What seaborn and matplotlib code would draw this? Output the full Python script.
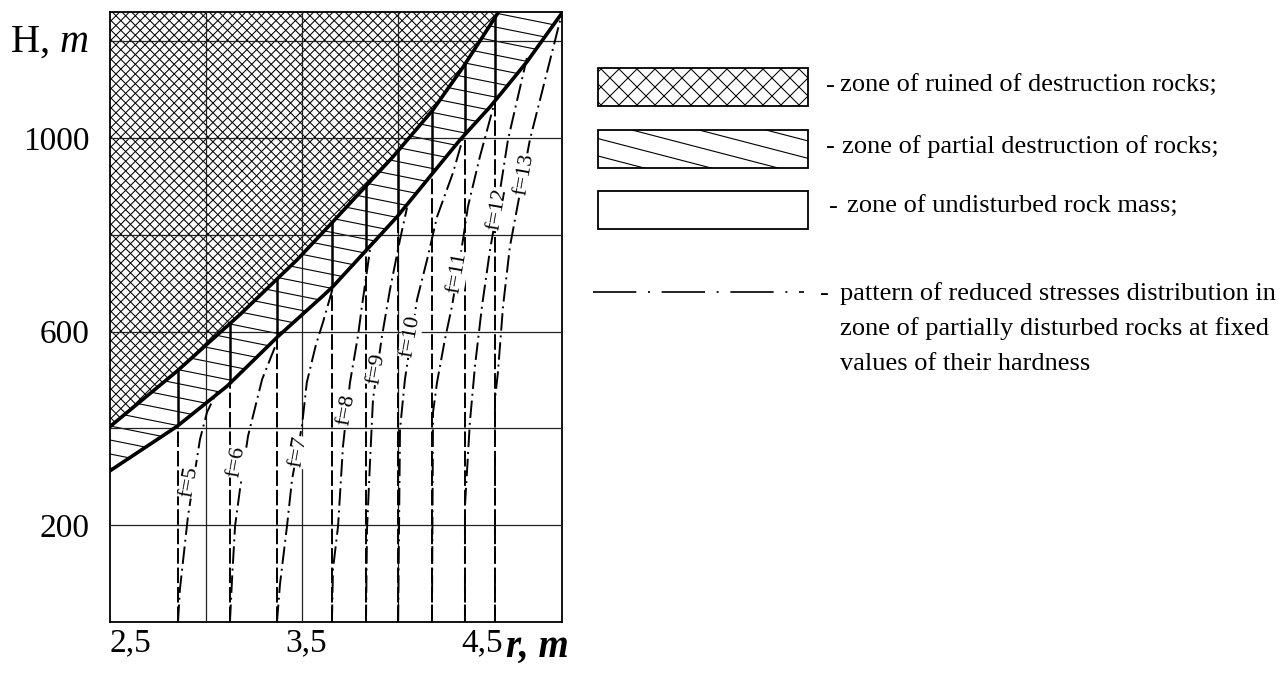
import numpy as np
import pandas as pd
import matplotlib
matplotlib.use('Agg')
import matplotlib.pyplot as plt
from matplotlib.patches import Polygon, Rectangle
from matplotlib.collections import LineCollection
from matplotlib.transforms import Affine2D
import seaborn as sns

# boundary of the ruined zone (r, m ; H, m)
upper_r = [2.376, 2.763, 3.122, 3.447, 3.652, 3.994, 4.222, 4.393, 4.592]
upper_H = [402, 518, 635, 748, 827, 961, 1058, 1146, 1258]

# boundary of the partial destruction zone
lower_r = [2.376, 2.763, 3.048, 3.339, 3.590, 3.652, 4.017, 4.376, 4.547, 4.757, 4.957]
lower_H = [311, 404, 487, 590, 672, 693, 837, 996, 1064, 1157, 1258]

# reduced stress curves for fixed hardness f
f_values = [5, 6, 7, 8, 9, 10, 11, 12, 13]
f_r = [
    [2.769, 2.780, 2.826, 2.894, 2.934, 2.991],
    [3.065, 3.077, 3.094, 3.122, 3.168, 3.248, 3.339, 3.356],
    [3.333, 3.350, 3.390, 3.419, 3.475, 3.503, 3.555, 3.595, 3.652],
    [3.646, 3.652, 3.681, 3.709, 3.749, 3.794, 3.817, 3.863, 3.874],
    [3.840, 3.846, 3.863, 3.880, 3.931, 3.977, 4.034, 4.074],
    [4.023, 4.034, 4.062, 4.131, 4.188, 4.245, 4.336, 4.393],
    [4.216, 4.222, 4.245, 4.290, 4.330, 4.393, 4.421, 4.489, 4.575],
    [4.404, 4.404, 4.432, 4.461, 4.501, 4.547, 4.587, 4.649, 4.757],
    [4.575, 4.575, 4.592, 4.621, 4.660, 4.774, 4.957],
]
f_H = [
    [0, 68, 219, 377, 433, 476],
    [0, 89, 198, 274, 384, 501, 584, 600],
    [0, 78, 198, 295, 404, 495, 573, 619, 691],
    [0, 109, 198, 363, 495, 590, 652, 769, 779],
    [0, 192, 330, 460, 590, 687, 790, 856],
    [0, 398, 501, 666, 748, 837, 928, 1000],
    [0, 433, 495, 584, 652, 790, 858, 961, 1076],
    [0, 239, 412, 528, 652, 769, 852, 996, 1165],
    [0, 460, 516, 652, 775, 996, 1258],
]
label_r = [2.835, 3.100, 3.453, 3.732, 3.902, 4.096, 4.359, 4.587, 4.741]
label_H = [289, 330, 351, 439, 522, 590, 722, 852, 924]

grid_r = [2.930, 3.477, 4.023]
x_ticks = [2.5, 3.5, 4.5]
x_ticklabels = ['2,5', '3,5', '4,5']
y_ticks = [200, 600, 1000]
y_minor = [400, 800, 1200]

legend_texts = ['zone of ruined of destruction rocks;',
                'zone of partial destruction of rocks;',
                'zone of undisturbed rock mass;']
pattern_lines = ['pattern of reduced stresses distribution in',
                 'zone of partially disturbed rocks at fixed',
                 'values of their hardness']

sns.set_theme(style='white')
plt.rcParams['font.family'] = ['Liberation Serif', 'DejaVu Serif']
plt.rcParams['text.color'] = 'black'
plt.rcParams['mathtext.fontset'] = 'custom'
plt.rcParams['mathtext.rm'] = 'Liberation Serif'
plt.rcParams['mathtext.it'] = 'Liberation Serif:italic'

W, Hpx = 1285, 673
AXW, AXH = 452, 610
fig = plt.figure(figsize=(W / 100, Hpx / 100), dpi=100)
ax = fig.add_axes([110 / W, 51 / Hpx, AXW / W, AXH / Hpx])
xmin, xmax = 2.3815, 4.957
ymin, ymax = 0, 1260
ax.set_xlim(xmin, xmax)
ax.set_ylim(ymin, ymax)

# zones
top_pts = [(upper_r[-1], ymax + 20), (xmin - 0.1, ymax + 20), (xmin - 0.1, upper_H[0])]
ruined = Polygon(list(zip(upper_r, upper_H)) + top_pts, closed=True,
                 facecolor='white', edgecolor='none', zorder=1)
band_pts = (list(zip(lower_r, lower_H)) + [(xmax + 0.1, lower_H[-1]), (xmax + 0.1, ymax + 20),
            (upper_r[-1], ymax + 20)] + list(zip(upper_r[::-1], upper_H[::-1]))
            + [(xmin - 0.1, upper_H[0]), (xmin - 0.1, lower_H[0])])
band = Polygon(band_pts, closed=True, facecolor='white', edgecolor='none', zorder=1)
und_pts = list(zip(lower_r, lower_H)) + [(xmax + 0.1, lower_H[-1]), (xmax + 0.1, -20),
                                         (xmin - 0.1, -20), (xmin - 0.1, lower_H[0])]
undisturbed = Polygon(und_pts, closed=True, facecolor='white', edgecolor='none', zorder=1)
for p in (ruined, band, undisturbed):
    ax.add_patch(p)

# hatching drawn in axes pixels
pix = Affine2D().scale(1 / AXW, 1 / AXH) + ax.transAxes
cross = []
for c in np.arange(-AXH, AXW + AXH, 9.7):
    cross.append([(c, 0), (c + AXH, AXH)])
    cross.append([(c, 0), (c - AXH, AXH)])
lc_x = LineCollection(cross, colors='black', linewidths=0.75, transform=pix, zorder=1.2)
ax.add_collection(lc_x, autolim=False)
lc_x.set_clip_path(ruined)

slant = [[(0, c), (AXW, c - 0.2 * AXW)] for c in np.arange(0, AXH + 0.2 * AXW + 14, 14)]
lc_s = LineCollection(slant, colors='black', linewidths=0.8, transform=pix, zorder=1.2)
ax.add_collection(lc_s, autolim=False)
lc_s.set_clip_path(band)

# grid
ax.set_xticks(x_ticks)
ax.set_xticklabels(x_ticklabels)
ax.set_xticks(grid_r, minor=True)
ax.set_yticks(y_ticks)
ax.set_yticks(y_minor, minor=True)
ax.tick_params(which='both', length=0, labelsize=24, colors='black')
ax.tick_params(axis='x', pad=4)
ax.tick_params(axis='y', pad=15)
ax.grid(True, which='minor', axis='x', color='#222222', linewidth=0.9, zorder=2)
ax.grid(True, which='both', axis='y', color='#222222', linewidth=0.9, zorder=2)
ax.set_axisbelow(False)
for s in ax.spines.values():
    s.set_color('black')
    s.set_linewidth(1.3)

# verticals at the starting radius of every f curve
for fr in f_r:
    l1 = ax.axvline(fr[0], color='black', linewidth=1.4, linestyle=(0, (8, 2)), zorder=2.8)
    l1.set_clip_path(undisturbed)
    l2 = ax.axvline(fr[0], color='black', linewidth=1.8, zorder=2.8)
    l2.set_clip_path(band)

df_f = pd.DataFrame({'r': np.concatenate(f_r), 'H': np.concatenate(f_H),
                     'f': np.repeat(f_values, [len(a) for a in f_r])})
sns.lineplot(data=df_f, x='r', y='H', units='f', estimator=None, sort=False,
             color='black', linewidth=1.4, linestyle=(0, (9, 2.5, 1, 2.5)),
             legend=False, ax=ax, zorder=3)

sns.lineplot(x=upper_r, y=upper_H, sort=False, estimator=None, color='black',
             linewidth=2.6, ax=ax, zorder=4)
sns.lineplot(x=lower_r, y=lower_H, sort=False, estimator=None, color='black',
             linewidth=2.6, ax=ax, zorder=4)
ax.set_xlabel('')
ax.set_ylabel('')

for f, lr, lh in zip(f_values, label_r, label_H):
    ax.text(lr, lh, f'f={f}', rotation=80, rotation_mode='anchor', ha='center', va='center',
            fontsize=16, zorder=5,
            bbox=dict(facecolor='white', edgecolor='none', pad=0.3))

# axis titles
fig.text(10 / W, 1 - 52 / Hpx, r'H, $\mathit{m}$', fontsize=29, va='baseline', ha='left')
fig.text(506 / W, 1 - 657 / Hpx, 'r, m', fontsize=28, style='italic', weight='bold',
         va='baseline', ha='left')

# legend drawn in figure pixels
lg = fig.add_axes([0, 0, 1, 1], facecolor='none')
lg.set_xlim(0, W)
lg.set_ylim(Hpx, 0)
lg.axis('off')
box_tops = [68, 130, 191]
dash_x = [826, 826, 829]
text_x = [840, 842, 847]
baselines = [92, 153, 213]
for i, top in enumerate(box_tops):
    rect = Rectangle((598, top), 210, 38, facecolor='white', edgecolor='black', linewidth=1.3)
    lg.add_patch(rect)
    if i == 0:
        segs = []
        for c in np.arange(400, 1100, 18):
            segs.append([(c, 0), (c - 300, 300)])
            segs.append([(c - 300, 0), (c, 300)])
        lc1 = LineCollection(segs, colors='black', linewidths=0.75)
        lg.add_collection(lc1)
        lc1.set_clip_path(rect)
    if i == 1:
        segs = [[(x0, top), (x0 + 400, top + 400 * 0.26)] for x0 in np.arange(230, 808, 67)]
        lc2 = LineCollection(segs, colors='black', linewidths=0.8)
        lg.add_collection(lc2)
        lc2.set_clip_path(rect)
    lg.text(dash_x[i], baselines[i], '-', fontsize=19, va='baseline', ha='left')
    lg.text(text_x[i], baselines[i], legend_texts[i], fontsize=19, va='baseline', ha='left')
lg.plot([593, 804], [292, 292], color='black', linewidth=1.2, linestyle=(0, (26, 7, 1.2, 7)))
lg.text(820, 300, '-', fontsize=19, va='baseline', ha='left')
for j, line in enumerate(pattern_lines):
    lg.text(840, 300 + 35 * j, line, fontsize=19, va='baseline', ha='left')

fig.savefig('out.png', dpi=100, facecolor='white')
